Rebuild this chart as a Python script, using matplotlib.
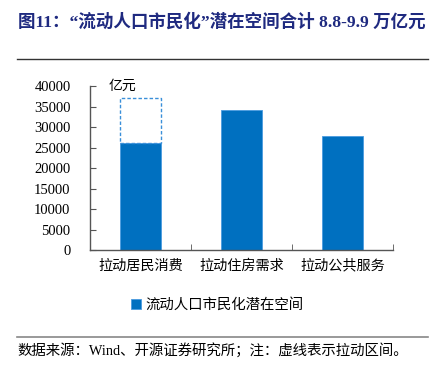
import matplotlib.pyplot as plt
from matplotlib.lines import Line2D

plt.rcParams['font.family'] = ['Liberation Serif', 'Noto Sans CJK SC', 'DejaVu Sans']

cats = ['拉动居民消费', '拉动住房需求', '拉动公共服务']
vals = [26100, 34100, 27800]
upper = [37200, None, None]   # dashed range top (only the first bar)
series_name = '流动人口市民化潜在空间'
yticks = list(range(0, 40001, 5000))

blue = '#0070C0'
navy = '#1F2A80'

fig = plt.figure(figsize=(4.35, 3.81), dpi=100)
ax = fig.add_axes([0.2069, 0.3438, 0.6965, 0.4304])

x = range(len(cats))
ax.bar(x, vals, width=0.41, color=blue, edgecolor='#4A9BE0', linewidth=0.6,
       label=series_name, zorder=2)
for i, u in enumerate(upper):
    if u is not None:
        ax.bar(i, u - vals[i], bottom=vals[i], width=0.41, fill=False,
               edgecolor='#3A8FD9', linestyle=(0, (2.5, 1.5)), linewidth=1.0,
               zorder=3)

ax.set_xlim(-0.5, 2.5)
ax.set_ylim(0, 40000)
ax.set_yticks(yticks)
ax.set_yticklabels([str(t) for t in yticks], fontsize=10.5)
ax.set_xticks(x)
ax.set_xticklabels(cats, fontsize=10.2, family=['Noto Sans CJK SC'])
ax.tick_params(axis='x', length=0, pad=6)
ax.tick_params(axis='y', direction='in', length=4, color='#555555', pad=14)
# boundary ticks on x axis
ax.set_xticks([-0.5, 0.5, 1.5, 2.5], minor=True)
ax.tick_params(axis='x', which='minor', direction='in', length=4, color='#555555')

for s in ['top', 'right']:
    ax.spines[s].set_visible(False)
for s in ['left', 'bottom']:
    ax.spines[s].set_color('#555555')
    ax.spines[s].set_linewidth(1.0)

ax.text(0.06, 1.0, '亿元', transform=ax.transAxes, fontsize=10,
        family=['Noto Sans CJK SC'], va='center', ha='left')

ax.legend(loc='center', bbox_to_anchor=(0.5, 0.2), bbox_transform=fig.transFigure,
          frameon=False, handlelength=0.7, handleheight=0.7, handletextpad=0.3,
          prop={'family': 'Noto Sans CJK SC', 'size': 10.4})

fig.text(0.041, 0.942, '图11：“流动人口市民化”潜在空间合计 8.8-9.9 万亿元',
         fontsize=12.6, fontweight='bold', color=navy, va='center', ha='left',
         family=['Liberation Serif', 'Noto Sans CJK SC'])
fig.add_artist(Line2D([0.039, 0.984], [0.845, 0.845], color='#333333', linewidth=1.0))
fig.add_artist(Line2D([0.039, 0.984], [0.115, 0.115], color='#888888', linewidth=1.2))
fig.text(0.041, 0.08, '数据来源：Wind、开源证券研究所；注：虚线表示拉动区间。',
         fontsize=10.4, va='center', ha='left',
         family=['Liberation Serif', 'Noto Sans CJK SC'])

fig.savefig('out.png', dpi=100)
